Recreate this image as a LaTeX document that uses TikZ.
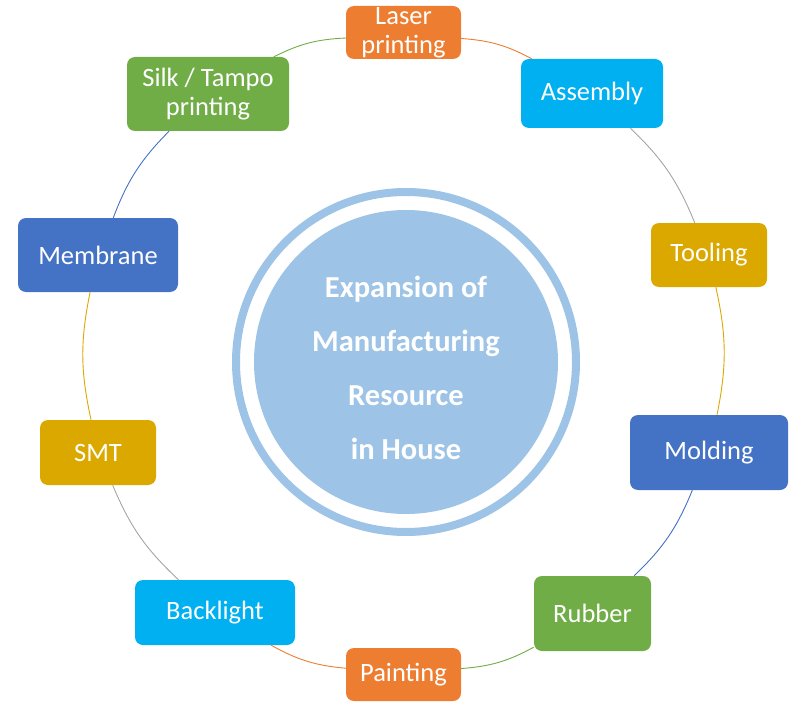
\documentclass[tikz,border=0pt]{standalone}
\usepackage{fontspec}
\setmainfont{Carlito}
\usepackage{tikz}
\usepackage{xcolor}
\definecolor{accorange}{HTML}{ED7D31}
\definecolor{acccyan}{HTML}{00B0F0}
\definecolor{accgreen}{HTML}{70AD47}
\definecolor{accblue}{HTML}{4472C4}
\definecolor{accgold}{HTML}{DBA800}
\definecolor{accgray}{HTML}{A5A5A5}
\definecolor{hubblue}{HTML}{9DC3E6}

\begin{document}
\begin{tikzpicture}[x=1pt,y=-1pt,
        item/.style={rounded corners=8pt, text=white, align=center, inner sep=0pt,
                font=\fontsize{26.5}{29}\selectfont},
        ring/.style={line width=0.9pt, bend left=12}]
        \useasboundingbox (0,0) rectangle (800,714);
        % centre
        \draw[hubblue, line width=8pt] (406,362) circle (170);
        \node[circle, fill=hubblue, minimum size=304pt, inner sep=0pt] (hub) at (406,362) {};
        \node[text=white, align=center, font=\bfseries\fontsize{30.5}{54}\selectfont] (hubtext) at (406,368)
                {Expansion of\\Manufacturing\\Resource\\in House};
        % boxes round the cycle
        \node[item, fill=accorange, minimum width=115pt, minimum height=53pt] (laser) at (403.5,32.5) {Laser\\printing};
        \node[item, fill=acccyan, minimum width=142pt, minimum height=69pt] (assembly) at (592,93.5) {Assembly};
        \node[item, fill=accgold, minimum width=116pt, minimum height=64pt] (tooling) at (709,255) {Tooling};
        \node[item, fill=accblue, minimum width=158pt, minimum height=75pt] (molding) at (709,452.5) {Molding};
        \node[item, fill=accgreen, minimum width=117pt, minimum height=75pt] (rubber) at (592.5,613.5) {Rubber};
        \node[item, fill=accorange, minimum width=115pt, minimum height=53pt] (painting) at (403.5,674.5) {Painting};
        \node[item, fill=acccyan, minimum width=160pt, minimum height=65pt] (backlight) at (215,612.5) {Backlight};
        \node[item, fill=accgold, minimum width=116pt, minimum height=65pt] (smt) at (98,452.5) {SMT};
        \node[item, fill=accblue, minimum width=160pt, minimum height=74pt] (membrane) at (98,255) {Membrane};
        \node[item, fill=accgreen, minimum width=162pt, minimum height=74pt] (silk) at (208,94) {Silk / Tampo\\printing};
        % arcs
        \draw[ring, accorange] (laser) to (assembly);
        \draw[ring, accgray] (assembly) to (tooling);
        \draw[ring, accgold] (tooling) to (molding);
        \draw[ring, accblue] (molding) to (rubber);
        \draw[ring, accgreen] (rubber) to (painting);
        \draw[ring, accorange] (painting) to (backlight);
        \draw[ring, accgray] (backlight) to (smt);
        \draw[ring, accgold] (smt) to (membrane);
        \draw[ring, accblue] (membrane) to (silk);
        \draw[ring, accgreen] (silk) to (laser);
\end{tikzpicture}
\end{document}
